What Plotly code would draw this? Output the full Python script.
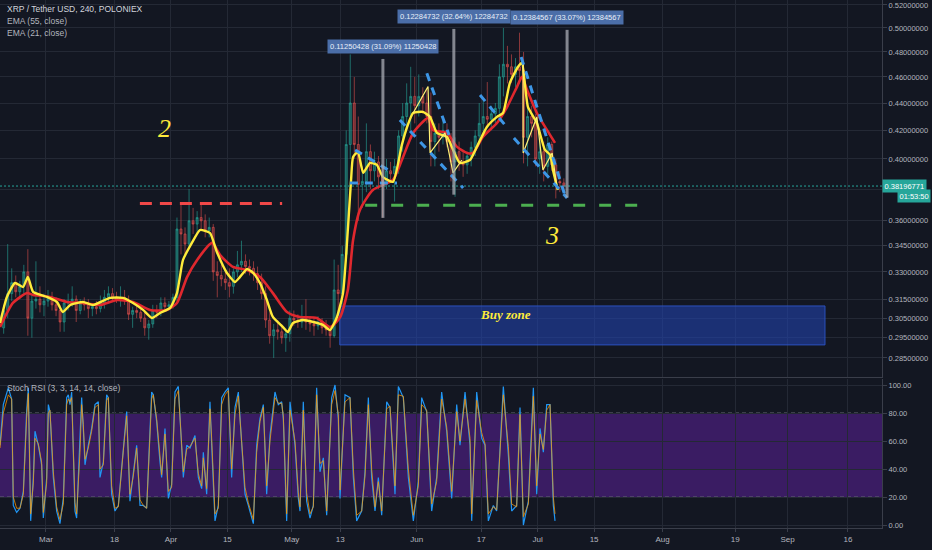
import numpy as np
import pandas as pd
import plotly.graph_objects as go

# ---------------- DATA ----------------
T0 = pd.Timestamp("2019-03-01")          # day offsets below are counted from this date

candle_dates = pd.date_range("2019-02-18 12:00", periods=140, freq="D")
candle_open = [.300,.309,.318,.324,.319,.322,.330,.305,.314,.315,.312,
               .314,.316,.312,.309,.303,.313,.314,.315,.309,.313,.312,.310,.311,.310,.313,.316,.318,.316,.315,.316,.314,.307,.309,.308,.305,.300,.302,.309,.308,.313,.311,
               .312,.316,.355,.352,.346,.360,.358,.362,.360,.354,.356,.330,.328,.326,.324,.322,.330,.334,.336,.333,.332,.329,.324,.318,.304,.296,.299,.298,.295,.297,
               .305,.304,.303,.305,.303,.302,.301,.303,.300,.299,.296,.320,.318,.340,.410,.440,.410,.383,.385,.405,.392,.398,.388,.385,.392,.390,.395,.416,.430,.440,.445,
               .438,.445,.440,.430,.412,.418,.415,.420,.412,.398,.405,.398,.396,.402,.408,.416,.425,.430,.428,.432,.436,.460,.470,.468,.462,.468,.465,.415,.430,.425,
               .400,.405,.395,.410,.396,.385,.384]
candle_high = [.312,.346,.332,.328,.325,.334,.343,.318,.336,.322,.318,
               .320,.319,.316,.312,.315,.318,.322,.317,.315,.316,.315,.313,.314,.317,.320,.322,.321,.319,.322,.320,.317,.311,.312,.310,.308,.304,.312,.312,.316,.316,.314,
               .318,.362,.370,.356,.380,.368,.366,.370,.364,.362,.358,.336,.334,.330,.332,.332,.342,.348,.340,.337,.336,.333,.329,.322,.308,.302,.304,.302,.300,.309,
               .309,.307,.312,.315,.306,.305,.306,.305,.304,.301,.337,.334,.345,.420,.478,.460,.430,.395,.425,.410,.405,.402,.395,.400,.398,.400,.420,.440,.455,.468,.460,
               .462,.452,.451,.448,.425,.425,.428,.425,.418,.415,.412,.405,.405,.412,.420,.440,.442,.456,.438,.440,.470,.500,.485,.478,.475,.496,.480,.440,.438,.432,
               .415,.412,.415,.412,.400,.392,.387]
candle_low = [.297,.305,.314,.316,.315,.318,.296,.295,.310,.308,.306,
              .311,.309,.306,.298,.298,.309,.311,.303,.307,.309,.305,.306,.307,.308,.310,.313,.314,.313,.311,.312,.304,.300,.305,.303,.296,.294,.300,.305,.306,.309,.309,
              .310,.314,.340,.340,.344,.352,.352,.355,.350,.350,.325,.316,.322,.320,.316,.318,.327,.330,.329,.328,.325,.320,.315,.300,.292,.285,.294,.292,.288,.293,
              .301,.300,.300,.299,.298,.296,.299,.297,.296,.290,.295,.306,.312,.336,.400,.400,.360,.368,.378,.380,.385,.380,.362,.380,.385,.372,.390,.405,.420,.420,.425,
              .430,.432,.425,.395,.395,.405,.410,.408,.385,.375,.392,.388,.390,.395,.402,.410,.418,.422,.420,.425,.432,.445,.455,.455,.452,.455,.397,.395,.415,.395,
              .390,.385,.390,.392,.374,.378,.379]
candle_close = [.309,.318,.324,.319,.322,.330,.305,.314,.315,.312,.314,
                .316,.312,.309,.303,.313,.314,.315,.309,.313,.312,.310,.311,.310,.313,.316,.318,.316,.315,.316,.314,.307,.309,.308,.305,.300,.302,.309,.308,.313,.311,.312,
                .316,.355,.352,.346,.360,.358,.362,.360,.354,.356,.330,.328,.326,.324,.322,.330,.334,.336,.333,.332,.329,.324,.318,.304,.296,.299,.298,.295,.297,.305,
                .304,.303,.305,.303,.302,.301,.303,.300,.299,.296,.320,.318,.340,.410,.440,.410,.383,.385,.405,.392,.398,.388,.385,.392,.390,.395,.416,.430,.440,.445,.438,
                .445,.440,.430,.412,.418,.415,.420,.412,.398,.405,.398,.396,.402,.408,.416,.425,.430,.428,.432,.436,.460,.470,.468,.462,.468,.465,.415,.430,.425,.400,
                .405,.395,.410,.396,.385,.384,.38196771]

# EMA (55) and EMA (21): (day offset, price)
ema55_pts = [(-11.4,.3004),(-8.2,.3130),(-4.7,.3183),(-3.2,.3173),(1.0,.3162),(5.2,.3135),(9.2,.3130),(13.4,.3119),
             (17.6,.3146),(21.6,.3135),(25.8,.3093),(30.0,.3093),(32.5,.3130),(35.0,.3271),(37.5,.3368),(41.2,.3467),
             (43.2,.3396),(46.4,.3328),(49.9,.3311),(53.1,.3271),(56.3,.3183),(59.8,.3082),(63.0,.3056),(67.2,.3051),
             (70.5,.3004),(73.0,.3056),(74.9,.3200),(76.2,.3484),(77.9,.3667),(81.1,.3794),(86.1,.3860),(88.3,.3993),
             (91.1,.4181),(94.8,.4289),(96.0,.4203),(99.5,.4181),(102.0,.4083),(104.5,.4041),(106.0,.4041),(108.4,.4153),
             (111.9,.4253),(114.4,.4370),(116.9,.4525),(118.1,.4600),(119.4,.4496),(121.8,.4326),(124.3,.4203),(126.3,.4111)]
ema21_pts = [(-11.4,.3025),(-9.7,.3162),(-7.7,.3238),(-5.7,.3216),(-4.5,.3271),(-3.2,.3190),(0.25,.3162),(2.7,.3135),
             (4.2,.3082),(6.0,.3119),(9.2,.3135),(11.7,.3119),(15.9,.3157),(19.1,.3157),(21.6,.3130),(24.1,.3093),
             (26.3,.3051),(28.3,.3077),(30.8,.3104),(32.5,.3183),(34.0,.3368),(36.2,.3467),(38.2,.3544),(40.7,.3526),
             (42.4,.3414),(44.9,.3294),(46.9,.3244),(48.1,.3271),(49.9,.3316),(51.4,.3294),(53.1,.3238),(54.8,.3146),
             (56.3,.3056),(58.8,.3004),(60.0,.2979),(61.3,.3025),(63.8,.3040),(66.3,.3030),(68.7,.3015),(70.5,.2989),
             (72.2,.3056),(73.7,.3183),(74.9,.3544),(75.7,.3860),(76.2,.4014),(77.4,.4048),(78.7,.3906),(80.4,.3973),
             (82.1,.3960),(83.6,.3879),(86.1,.3847),(88.3,.4097),(89.6,.4224),(91.1,.4326),(93.5,.4334),(95.3,.4297),
             (97.0,.4181),(99.5,.4153),(100.7,.4083),(102.7,.3973),(105.2,.3993),(106.9,.4083),(109.4,.4224),(111.9,.4297),
             (113.4,.4326),(115.1,.4553),(117.1,.4679),(118.1,.4711),(118.9,.4525),(119.6,.4370),(121.8,.4253),(123.8,.4062),
             (125.1,.4028),(125.8,.3926),(127.0,.3794)]

# Stoch RSI: (day offset, K, D)
stoch_pts = [(-11.41,57,55),(-10.59,86,80),(-9.35,98,93),(-8.52,90,90),(-8.11,14,20),(-7.28,9,12),(-6.45,12,12),(-5.62,24,22),
             (-4.80,81,76),(-4.38,98,94),(-3.80,3,8),(-3.14,34,30),(-2.73,67,62),(-1.90,57,58),(-1.08,43,45),(-0.66,5,9),
             (0.17,34,30),(0.58,86,80),(0.99,81,82),(1.82,34,38),(2.65,10,13),(3.47,1,4),(4.30,19,15),(5.13,91,86),
             (5.54,93,90),(5.96,86,88),(6.37,95,91),(7.20,10,16),(7.61,5,8),(8.44,57,52),(8.85,91,86),(9.26,69,72),
             (9.68,43,47),(10.50,57,55),(11.33,69,67),(12.16,86,84),(12.99,88,86),(13.40,34,40),(14.23,45,43),(15.05,93,89),
             (15.47,91,91),(16.29,22,28),(17.12,10,12),(17.95,14,13),(19.19,57,53),(20.02,81,78),(20.84,17,22),(21.67,38,35),
             (22.50,57,55),(23.33,14,18),(24.15,14,14),(24.98,12,12),(26.22,95,90),(26.63,93,93),(27.46,74,76),(28.29,45,48),
             (28.70,34,36),(29.53,69,65),(30.36,19,24),(31.18,29,27),(32.01,95,90),(32.84,99,96),(33.66,50,56),(34.08,34,38),
             (34.91,57,54),(35.73,55,56),(36.97,64,62),(37.80,34,37),(38.63,26,28),(39.04,52,48),(39.87,22,26),(40.69,88,83),
             (41.11,57,62),(41.94,3,8),(42.76,14,12),(43.59,91,86),(44.42,95,93),(45.24,98,96),(46.07,34,40),(46.90,84,79),
             (47.73,95,92),(48.55,57,62),(49.38,22,27),(50.21,14,16),(51.45,1,4),(52.28,57,52),(53.10,76,74),(53.93,86,84),
             (54.76,22,28),(55.58,64,60),(56.82,95,91),(57.65,86,87),(58.48,88,87),(58.89,76,78),(59.72,3,8),(60.55,88,82),
             (61.79,57,60),(62.62,19,23),(63.03,10,13),(63.85,88,82),(64.68,17,23),(65.51,5,8),(66.34,14,13),(67.16,98,93),
             (67.99,38,44),(68.82,48,46),(69.65,7,10),(70.89,91,86),(71.72,100,96),(72.54,76,79),(72.96,19,25),(74.20,93,88),
             (75.44,91,91),(76.27,34,40),(77.09,3,7),(78.33,10,10),(79.16,38,35),(79.99,91,86),(80.81,34,40),(81.64,10,13),
             (82.47,34,31),(83.30,7,10),(84.54,88,83),(85.36,84,85),(86.60,22,28),(87.43,99,93),(88.67,91,92),(89.91,34,40),
             (91.15,3,7),(92.39,31,28),(93.22,91,86),(94.46,81,82),(95.70,10,15),(96.94,34,31),(98.18,95,90),(99.43,67,70),
             (100.67,19,24),(101.91,86,81),(102.73,57,60),(103.98,95,90),(105.22,57,62),(105.63,3,8),(106.87,95,89),(108.11,62,66),
             (108.94,57,58),(109.76,3,8),(111.00,14,13),(111.83,10,11),(113.48,99,93),(114.73,50,56),(115.55,10,15),(116.79,14,13),
             (117.62,84,79),(118.45,0,6),(119.69,17,15),(120.93,98,92),(121.76,22,28),(122.59,69,65),(123.41,52,54),(124.24,86,82),
             (125.07,86,86),(125.89,14,20),(126.31,3,8)]

# Axis ticks
price_ticks = [0.52, 0.50, 0.48, 0.46, 0.44, 0.42, 0.40, 0.38, 0.36, 0.345, 0.33, 0.315, 0.305, 0.295, 0.285]
price_tick_text = ["0.52000000","0.50000000","0.48000000","0.46000000","0.44000000","0.42000000","0.40000000","",
                   "0.36000000","0.34500000","0.33000000","0.31500000","0.30500000","0.29500000","0.28500000"]
stoch_ticks = [0, 20, 40, 60, 80, 100]
stoch_tick_text = ["0.00", "20.00", "40.00", "60.00", "80.00", "100.00"]
date_ticks = ["2019-03-01","2019-03-18","2019-04-01","2019-04-15","2019-05-01","2019-05-13","2019-06-01",
              "2019-06-17","2019-07-01","2019-07-15","2019-08-01","2019-08-19","2019-09-01","2019-09-16"]
date_tick_text = ["Mar","18","Apr","15","May","13","Jun","17","Jul","15","Aug","19","Sep","16"]

last_price = 0.38196771
countdown = "01:53:50"

# Drawings (day offsets / prices)
red_level, red_span = 0.3707, (23.3, 58.6)
green_level, green_span = 0.3696, (79.2, 146.7)
buy_zone_days, buy_zone_prices = (72.9, 193.3), (0.2914, 0.3114)
measures = [(83.6, 0.3618, 0.4743, "0.11250428 (31.09%) 11250428"),
            (101.2, 0.3764, 0.4992, "0.12284732 (32.64%) 12284732"),
            (129.3, 0.3745, 0.4984, "0.12384567 (33.07%) 12384567")]
blue_lines = [[(76.7,.4062),(84.9,.3926)],
              [(75.4,.3840),(87.1,.3840)],
              [(87.8,.4275),(103.5,.3807)],
              [(94.5,.4628),(100.0,.4167)],
              [(107.7,.4461),(114.1,.4231)],
              [(116.1,.4146),(129.3,.3742)],
              [(117.9,.4759),(128.8,.3756)]]
thin_yellow_paths = [[(91.1,.4326),(94.8,.4525),(95.3,.4041),(99.0,.4181),(101.0,.3906),(103.2,.3993)],
                     [(118.4,.4711),(118.4,.4041),(121.8,.4297),(123.3,.3926),(125.6,.4041),(126.8,.3807)]]
labels_big = [("2", 29.5, 0.4216), ("3", 125.6, 0.3514)]
buy_zone_label = ("Buy zone", 113.9, 0.3071)

# ---------------- FIGURE ----------------
def T(days):
    return T0 + pd.to_timedelta(np.asarray(days, dtype=float), unit="D")

BG = "#131722"
GRID = "#242935"
AXIS = "#3a3e4a"
TXT = "#b2b5be"
FONT = "Liberation Sans, Arial, sans-serif"
SERIF = "Liberation Serif, Times New Roman, serif"

PLOT_W, PLOT_H = 882, 528
main_bottom = 1 - 377 / PLOT_H
stoch_top = 1 - 379 / PLOT_H

fig = go.Figure()

# stoch band (linear axis)
fig.add_shape(type="rect", xref="x domain", yref="y2", x0=0, x1=1, y0=20, y1=80,
              fillcolor="#3a1c63", line=dict(width=0), layer="below")
for lv in (20, 80):
    fig.add_shape(type="line", xref="x domain", yref="y2", x0=0, x1=1, y0=lv, y1=lv,
                  line=dict(color="#6a6d78", width=1, dash="4px,3px"), layer="below")

# buy zone
bz_x = T([buy_zone_days[0], buy_zone_days[1], buy_zone_days[1], buy_zone_days[0], buy_zone_days[0]])
bz_y = [buy_zone_prices[0], buy_zone_prices[0], buy_zone_prices[1], buy_zone_prices[1], buy_zone_prices[0]]
fig.add_trace(go.Scatter(x=bz_x, y=bz_y, xaxis="x2", yaxis="y", mode="lines", fill="toself",
                         fillcolor="rgba(33,68,175,0.58)", line=dict(color="rgba(45,85,200,0.9)", width=1),
                         hoverinfo="skip"))

# candles
fig.add_trace(go.Candlestick(x=candle_dates, open=candle_open, high=candle_high, low=candle_low, close=candle_close,
                             xaxis="x2", yaxis="y",
                             increasing=dict(line=dict(color="rgba(38,166,154,0.6)", width=1), fillcolor="rgba(38,166,154,0.45)"),
                             decreasing=dict(line=dict(color="rgba(239,83,80,0.55)", width=1), fillcolor="rgba(239,83,80,0.4)"),
                             whiskerwidth=0, hoverinfo="skip"))

# EMAs
e55d, e55v = zip(*ema55_pts)
e21d, e21v = zip(*ema21_pts)
fig.add_trace(go.Scatter(x=T(e55d), y=e55v, xaxis="x2", yaxis="y", mode="lines",
                         line=dict(color="#e0282e", width=2.6, shape="spline", smoothing=0.6), hoverinfo="skip"))
fig.add_trace(go.Scatter(x=T(e21d), y=e21v, xaxis="x2", yaxis="y", mode="lines",
                         line=dict(color="#ffeb3b", width=2.4, shape="spline", smoothing=0.5), hoverinfo="skip"))

# current price line
fig.add_trace(go.Scatter(x=T([-11.41, 207.44]), y=[last_price, last_price], xaxis="x2", yaxis="y", mode="lines",
                         line=dict(color="#26a69a", width=1, dash="2px,2px"), hoverinfo="skip"))

# thin yellow paths
for path in thin_yellow_paths:
    d, v = zip(*path)
    fig.add_trace(go.Scatter(x=T(d), y=v, xaxis="x2", yaxis="y", mode="lines",
                             line=dict(color="#fff176", width=1.2), hoverinfo="skip"))

# blue dashed trend lines
for seg in blue_lines:
    d, v = zip(*seg)
    fig.add_trace(go.Scatter(x=T(d), y=v, xaxis="x2", yaxis="y", mode="lines",
                             line=dict(color="#3d96e6", width=3, dash="8px,7px"), hoverinfo="skip"))

# level lines
fig.add_trace(go.Scatter(x=T(red_span), y=[red_level, red_level], xaxis="x2", yaxis="y", mode="lines",
                         line=dict(color="#f04848", width=3, dash="12px,8px"), hoverinfo="skip"))
fig.add_trace(go.Scatter(x=T(green_span), y=[green_level, green_level], xaxis="x2", yaxis="y", mode="lines",
                         line=dict(color="#4caf50", width=3, dash="12px,14px"), hoverinfo="skip"))

# measure lines
for d, lo, hi, txt in measures:
    fig.add_trace(go.Scatter(x=T([d, d]), y=[lo, hi], xaxis="x2", yaxis="y", mode="lines",
                             line=dict(color="rgba(170,172,180,0.75)", width=3), hoverinfo="skip"))

# stoch lines
sd, sk, sdd = zip(*stoch_pts)
fig.add_trace(go.Scatter(x=T(sd), y=sk, xaxis="x", yaxis="y2", mode="lines",
                         line=dict(color="#2196f3", width=1.2), hoverinfo="skip"))
fig.add_trace(go.Scatter(x=T(sd), y=sdd, xaxis="x", yaxis="y2", mode="lines",
                         line=dict(color="rgba(255,152,0,0.75)", width=1), hoverinfo="skip"))

annotations = []
# legend texts
annotations.append(dict(xref="paper", yref="paper", x=5 / PLOT_W, y=1 - 9 / PLOT_H, xanchor="left", yanchor="middle",
                        text="XRP / Tether USD, 240, POLONIEX", showarrow=False, font=dict(size=8.5, color="#d1d4dc", family=FONT)))
annotations.append(dict(xref="paper", yref="paper", x=5 / PLOT_W, y=1 - 21 / PLOT_H, xanchor="left", yanchor="middle",
                        text="EMA (55, close)", showarrow=False, font=dict(size=8.5, color=TXT, family=FONT)))
annotations.append(dict(xref="paper", yref="paper", x=5 / PLOT_W, y=1 - 33 / PLOT_H, xanchor="left", yanchor="middle",
                        text="EMA (21, close)", showarrow=False, font=dict(size=8.5, color=TXT, family=FONT)))
annotations.append(dict(xref="paper", yref="paper", x=5 / PLOT_W, y=1 - 388 / PLOT_H, xanchor="left", yanchor="middle",
                        text="Stoch RSI (3, 3, 14, 14, close)", showarrow=False, font=dict(size=8.5, color=TXT, family=FONT)))
# measure labels
for d, lo, hi, txt in measures:
    annotations.append(dict(xref="x2", yref="y", x=T([d])[0], y=np.log10(hi), yshift=12, xanchor="center", yanchor="middle",
                            text=txt, showarrow=False, bgcolor="#4b6ea8", borderpad=2,
                            font=dict(size=7.5, color="#e8eef8", family=FONT)))
# big numbers
for txt, d, p in labels_big:
    annotations.append(dict(xref="x2", yref="y", x=T([d])[0], y=np.log10(p), xanchor="center", yanchor="middle",
                            text="<i>" + txt + "</i>", showarrow=False, font=dict(size=26, color="#ffeb3b", family=SERIF)))
annotations.append(dict(xref="x2", yref="y", x=T([buy_zone_label[1]])[0], y=np.log10(buy_zone_label[2]),
                        xanchor="center", yanchor="middle", text="<b><i>" + buy_zone_label[0] + "</i></b>", showarrow=False,
                        font=dict(size=13, color="#ffeb3b", family=SERIF)))
# price label + countdown
annotations.append(dict(xref="paper", yref="y", x=1.0, y=np.log10(last_price), xanchor="left", yanchor="middle",
                        text="0.38196771", showarrow=False, bgcolor="#26a69a", borderpad=1.5,
                        font=dict(size=7.5, color="#ffffff", family=FONT)))
annotations.append(dict(xref="paper", yref="paper", x=1 + 49 / PLOT_W, y=1 - 196 / PLOT_H, xanchor="right", yanchor="middle",
                        text=countdown, showarrow=False, bgcolor="#26a69a", borderpad=1.5,
                        font=dict(size=7.5, color="#ffffff", family=FONT)))

xr = [T([-11.41])[0], T([207.44])[0]]
common_x = dict(type="date", tickvals=date_ticks, showgrid=True, gridcolor=GRID, gridwidth=1, zeroline=False,
                rangeslider=dict(visible=False), fixedrange=True)

fig.update_layout(
    width=932, height=550, margin=dict(l=0, r=50, t=0, b=22, autoexpand=False),
    paper_bgcolor=BG, plot_bgcolor=BG, showlegend=False,
    font=dict(family=FONT, size=8, color=TXT),
    annotations=annotations,
    xaxis=dict(domain=[0, 1], anchor="y2", range=xr, ticktext=date_tick_text, showticklabels=True,
               showline=True, linecolor=AXIS, ticks="outside", ticklen=3, tickcolor=AXIS,
               tickfont=dict(size=8, color=TXT), **common_x),
    xaxis2=dict(domain=[0, 1], anchor="y", matches="x", showticklabels=False, showline=True, linecolor=AXIS, **common_x),
    yaxis=dict(domain=[main_bottom, 1], anchor="x2", side="right", type="log",
               range=[np.log10(0.2759), np.log10(0.5244)], tickvals=price_ticks, ticktext=price_tick_text,
               showgrid=True, gridcolor=GRID, zeroline=False, ticks="outside", ticklen=4, tickcolor=AXIS,
               showline=True, linecolor=AXIS, tickfont=dict(size=7.5, color=TXT), fixedrange=True),
    yaxis2=dict(domain=[0, stoch_top], anchor="x", side="right", range=[-2.1, 104.3], tickvals=stoch_ticks,
                ticktext=stoch_tick_text, showgrid=True, gridcolor=GRID, zeroline=False, ticks="outside", ticklen=4,
                tickcolor=AXIS, showline=True, linecolor=AXIS, tickfont=dict(size=7.5, color=TXT), fixedrange=True),
)

fig.write_html("out.html", config={"displayModeBar": False},
               post_script="document.body.style.margin='0';document.body.style.background='#131722';")
